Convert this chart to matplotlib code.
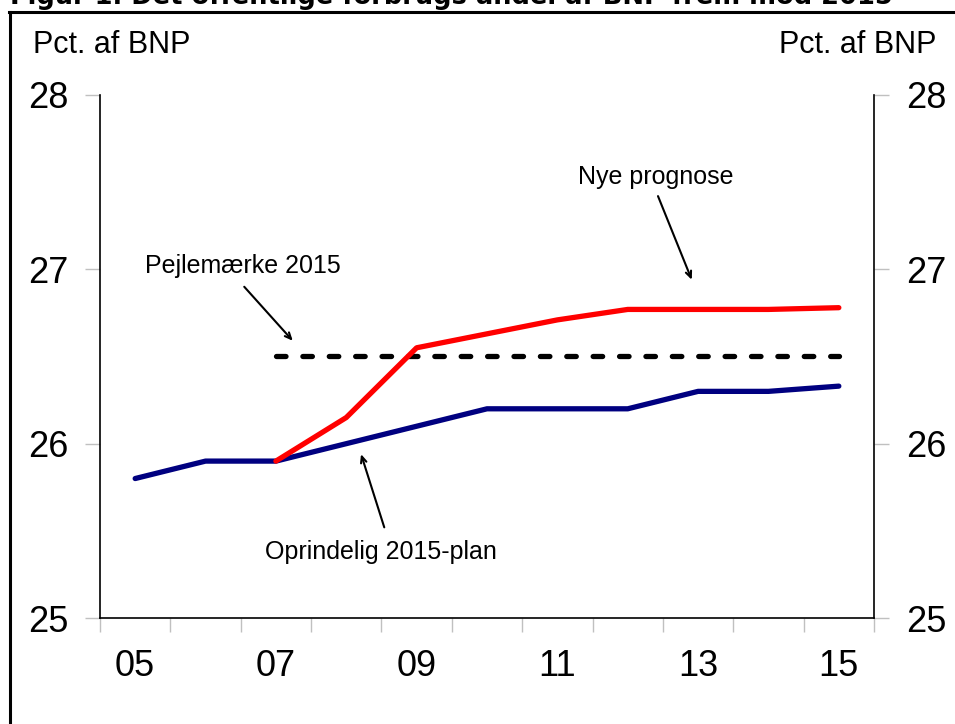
import numpy as np
import matplotlib
matplotlib.use("Agg")
import matplotlib.pyplot as plt
from matplotlib.lines import Line2D

plt.rcParams["font.family"] = ["Liberation Sans", "DejaVu Sans"]

# Data (pct. af BNP)
years = ["05", "06", "07", "08", "09", "10", "11", "12", "13", "14", "15"]
oprindelig = [25.8, 25.9, 25.9, 26.0, 26.1, 26.2, 26.2, 26.2, 26.3, 26.3, 26.33]
nye_years = ["07", "08", "09", "10", "11", "12", "13", "14", "15"]
nye = [25.9, 26.15, 26.55, 26.63, 26.71, 26.77, 26.77, 26.77, 26.78]
pejle_years = ["07", "15"]
pejle = [26.5, 26.5]

x_all = np.arange(len(years))
x_nye = np.array([years.index(y) for y in nye_years])
x_pejle = np.array([years.index(y) for y in pejle_years])

fig = plt.figure(figsize=(9.55, 7.24), dpi=100)
ax = fig.add_axes([0.1047, 0.1464, 0.8105, 0.7224])

ax.plot(x_pejle, pejle, color="black", lw=3.8, dashes=(1.8, 3.2),
        dash_capstyle="round", zorder=2)
ax.plot(x_all, oprindelig, color="#000080", lw=3.8, solid_capstyle="round", zorder=3)
ax.plot(x_nye, nye, color="#ff0000", lw=3.8, solid_capstyle="round", zorder=4)

ax.set_xlim(-0.5, len(years) - 0.5)
ax.set_ylim(25, 28)

# x axis: category boundaries as ticks, labels every second year
ax.set_xticks(np.arange(-0.5, len(years), 1.0), minor=True)
ax.set_xticks(x_all[::2])
ax.set_xticklabels(years[::2])
ax.tick_params(axis="x", which="major", length=0, pad=22, labelsize=26)
ax.tick_params(axis="x", which="minor", length=10, width=1, color="#c0c0c0",
               direction="out")

ax.set_yticks([25, 26, 27, 28])
ax.tick_params(axis="y", which="major", length=11, width=1, color="#c0c0c0",
               direction="out", labelsize=26, pad=12, left=True, right=True,
               labelleft=True, labelright=True)

for s in ["left", "right", "bottom"]:
    ax.spines[s].set_linewidth(1.2)
    ax.spines[s].set_color("black")
ax.spines["top"].set_visible(False)

# annotations
arrow = dict(arrowstyle="->,head_length=0.45,head_width=0.2", color="black", lw=1.5,
             shrinkA=0, shrinkB=0)
ax.annotate("", xy=(7.91, 26.94), xytext=(7.43, 27.42), arrowprops=arrow)
ax.text(7.40, 27.49, "Nye prognose", fontsize=18, ha="center", va="baseline")
ax.annotate("", xy=(2.24, 26.59), xytext=(1.55, 26.90), arrowprops=arrow)
ax.text(1.53, 26.98, "Pejlemærke 2015", fontsize=18, ha="center", va="baseline")
ax.annotate("", xy=(3.21, 25.94), xytext=(3.54, 25.52), arrowprops=arrow)
ax.text(3.49, 25.34, "Oprindelig 2015-plan", fontsize=18, ha="center", va="baseline")

# unit labels
fig.text(33 / 955, 1 - 53 / 724, "Pct. af BNP", fontsize=22, ha="left", va="baseline")
fig.text(936 / 955, 1 - 53 / 724, "Pct. af BNP", fontsize=22, ha="right", va="baseline")

# title (cut off at top edge, as in the source) and frame
fig.text(10 / 955, 1 - 4 / 724, "Figur 1. Det offentlige forbrugs andel af BNP frem mod 2015",
         fontsize=18.5, fontweight="bold", family="DejaVu Sans", ha="left", va="baseline")
fig.add_artist(Line2D([10 / 955, 10 / 955], [0, 1 - 12 / 724], color="black", lw=2.2,
                      transform=fig.transFigure))
fig.add_artist(Line2D([9 / 955, 1], [1 - 12 / 724, 1 - 12 / 724], color="black", lw=2.2,
                      transform=fig.transFigure))

fig.savefig("out.png", dpi=100)
